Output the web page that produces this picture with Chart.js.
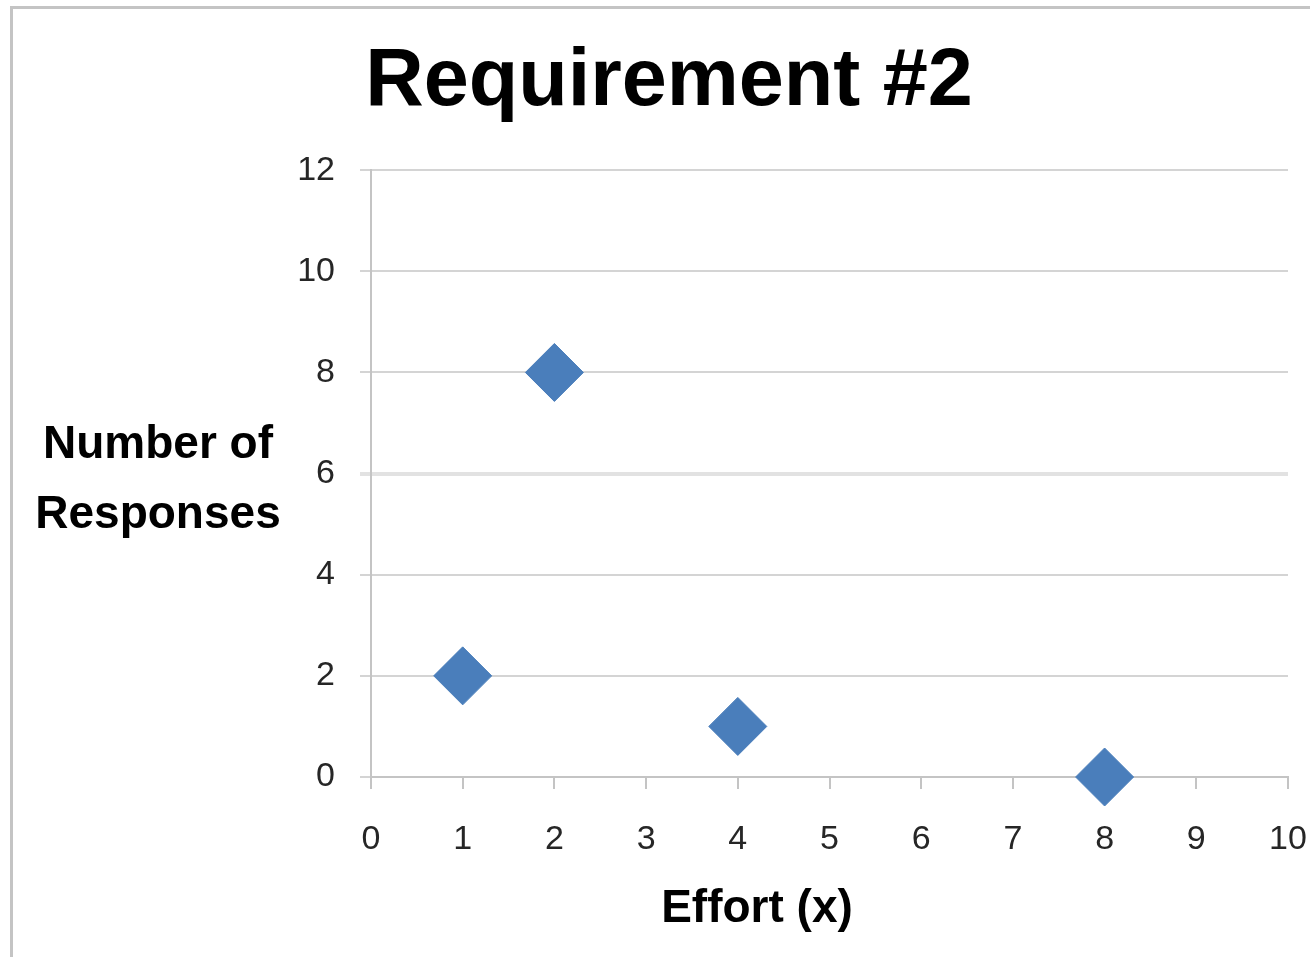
<!DOCTYPE html>
<html>
<head>
<meta charset="utf-8">
<script src="https://cdn.jsdelivr.net/npm/chart.js@4/dist/chart.umd.min.js"></script>
<style>
html,body{margin:0;padding:0;background:#fff;overflow:hidden;width:1310px;height:957px}
#c{display:block}
</style>
</head>
<body>
<canvas id="c" width="1318" height="957" style="width:1318px;height:957px"></canvas>
<script>
const chartTitle = 'Requirement #2';
const xAxisTitle = 'Effort (x)';
const yAxisTitle = ['Number of', 'Responses'];
const effortValues = [1, 2, 4, 8];
const responseCounts = [2, 8, 1, 0];
const xTickRange = [0, 10, 1];   // min, max, step
const yTickRange = [0, 12, 2];   // min, max, step

const points = effortValues.map((x, i) => ({ x: x, y: responseCounts[i] }));

const FONT = '"Liberation Sans", Arial, sans-serif';

const decor = {
  id: 'decor',
  beforeDraw(chart) {
    const ctx = chart.ctx;
    ctx.save();
    ctx.fillStyle = '#ffffff';
    ctx.fillRect(0, 0, chart.width, chart.height);
    ctx.strokeStyle = '#c4c4c4';
    ctx.lineWidth = 3;
    ctx.strokeRect(11.5, 7.5, chart.width + 50, chart.height + 50);
    ctx.restore();
  },
  afterDraw(chart) {
    const ctx = chart.ctx;
    const a = chart.chartArea;
    ctx.save();
    ctx.fillStyle = '#000000';
    ctx.font = 'bold 46px ' + FONT;
    ctx.textAlign = 'center';
    ctx.textBaseline = 'alphabetic';
    ctx.fillText(yAxisTitle[0], a.left - 213, 458);
    ctx.fillText(yAxisTitle[1], a.left - 213, 528);
    ctx.fillText(xAxisTitle, a.left + 386, a.bottom + 145);
    ctx.restore();
  }
};

new Chart(document.getElementById('c'), {
  type: 'scatter',
  data: {
    datasets: [{
      label: 'Responses',
      data: points,
      clip: false,
      pointStyle: 'rectRot',
      pointRadius: 29,
      pointHoverRadius: 29,
      pointBackgroundColor: '#4a7ebb',
      pointBorderColor: '#4a7ebb',
      pointBorderWidth: 1
    }]
  },
  options: {
    responsive: false,
    animation: false,
    devicePixelRatio: 1,
    layout: { padding: { left: 20, right: 0, top: 0, bottom: 0 } },
    plugins: {
      legend: { display: false },
      tooltip: { enabled: false },
      title: {
        display: true,
        text: chartTitle,
        color: '#000000',
        font: { family: FONT, size: 81, weight: 'bold', lineHeight: 1.2 },
        padding: { top: 34, bottom: 39 }
      }
    },
    scales: {
      x: {
        type: 'linear',
        min: xTickRange[0],
        max: xTickRange[1],
        afterFit: s => { s.height = 180; s.paddingRight = 15; s.paddingLeft = 0; },
        ticks: {
          stepSize: xTickRange[2],
          color: '#262626',
          padding: 30,
          font: { family: FONT, size: 34 },
          maxRotation: 0
        },
        grid: {
          display: true,
          drawOnChartArea: false,
          drawTicks: true,
          tickLength: 12,
          color: '#c4c4c4',
          lineWidth: 2
        },
        border: { display: true, color: '#c4c4c4', width: 2 }
      },
      y: {
        type: 'linear',
        min: yTickRange[0],
        max: yTickRange[1],
        afterFit: s => { s.width = 351; },
        ticks: {
          stepSize: yTickRange[2],
          color: '#262626',
          padding: 25,
          font: { family: FONT, size: 34 }
        },
        grid: {
          display: true,
          drawTicks: true,
          tickLength: 11,
          color: ctx => (ctx.tick && ctx.tick.value === 6) ? '#e2e2e2' : '#d4d4d4',
          lineWidth: ctx => (ctx.tick && ctx.tick.value === 6) ? 4 : 2
        },
        border: { display: true, color: '#c4c4c4', width: 2 }
      }
    }
  },
  plugins: [decor]
});
</script>
</body>
</html>
